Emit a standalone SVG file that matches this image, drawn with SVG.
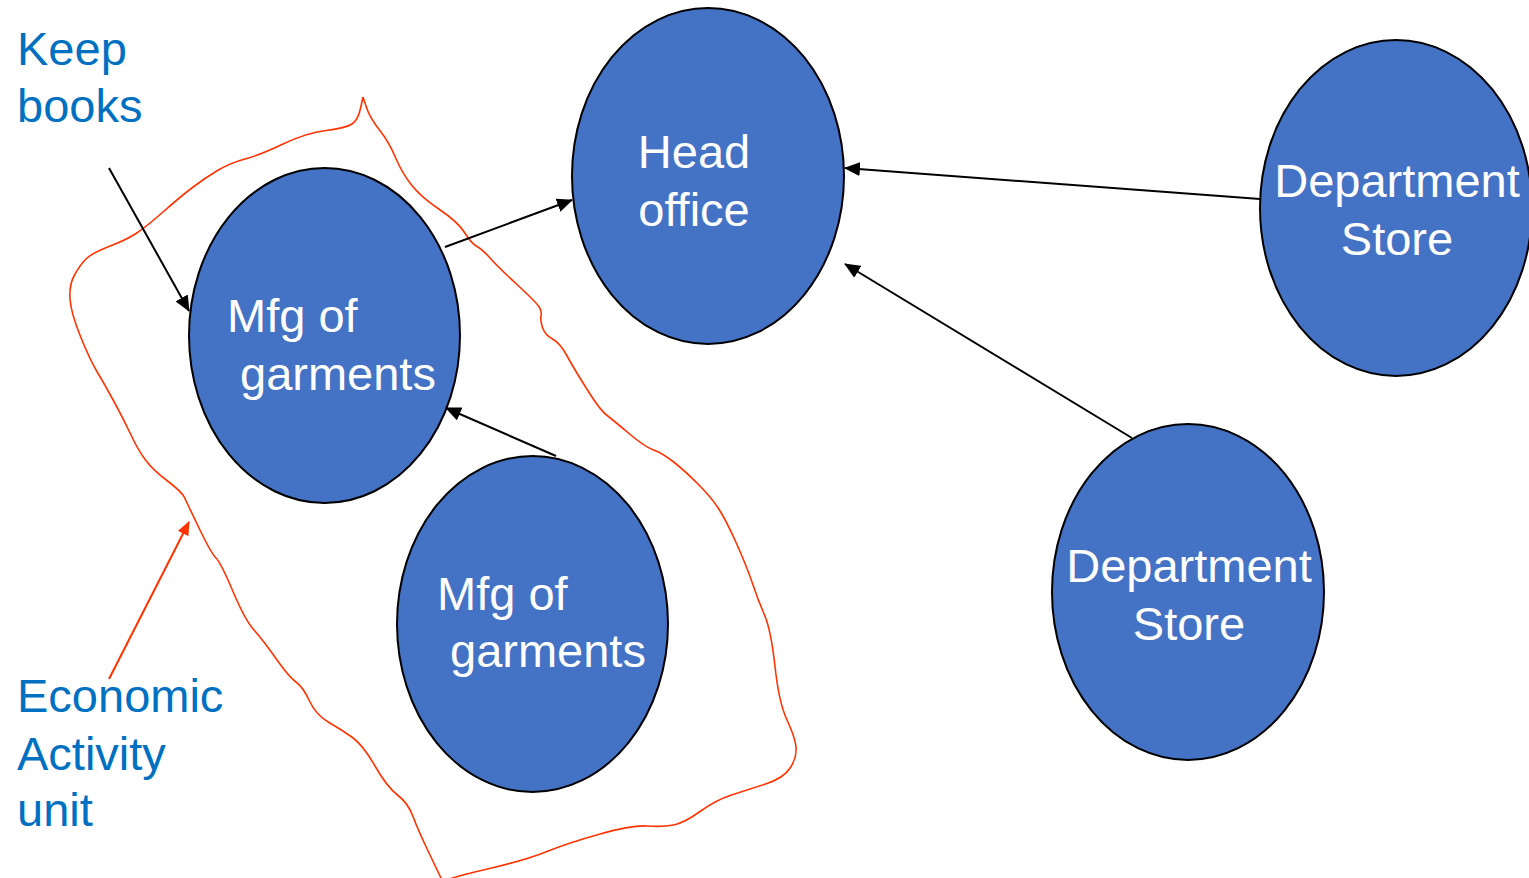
<svg xmlns="http://www.w3.org/2000/svg" width="1529" height="878" viewBox="0 0 1529 878">
<style>
.node{fill:#4472C4;stroke:#000;stroke-width:2}
.nt{fill:#fff;font-family:"Liberation Sans",Arial,sans-serif;font-size:47px}
.lbl{fill:#0070C0;font-family:"Liberation Sans",Arial,sans-serif;font-size:47px}
.conn{stroke:#000;stroke-width:2;fill:none}
</style>
<defs>
<marker id="ah" markerUnits="userSpaceOnUse" markerWidth="16" markerHeight="14" refX="15" refY="7" orient="auto"><path d="M0,0 L16,7 L0,14 Z" fill="#000"/></marker>
<marker id="ahr" markerUnits="userSpaceOnUse" markerWidth="14" markerHeight="12" refX="13" refY="6" orient="auto"><path d="M0,0 L14,6 L0,12 Z" fill="#FF3300"/></marker>
</defs>
<rect width="1529" height="878" fill="#fff"/>
<path id="boundary" d="M363,97 L366.5,107.5 Q370,118 379.5,130 Q389,142 395.5,157.5 Q402,173 411.5,185 Q421,197 439.5,209.5 Q458,222 464.5,232.5 Q471,243 477,246.5 Q483,250 490.5,258.5 Q498,267 517.5,285 Q537,303 539.5,307.5 Q542,312 541,316 Q540,320 542.5,327.5 Q545,335 552.5,339 Q560,343 566.5,355 Q573,367 586.5,388.5 Q600,410 606.5,415 Q613,420 629,433.5 Q645,447 653.5,450 Q662,453 673,461.5 Q684,470 697.5,483.5 Q711,497 718.5,508.5 Q726,520 736.5,543.5 Q747,567 752.5,583.5 Q758,600 764.5,615 Q771,630 775,666.5 Q779,703 787,720 Q795,737 796,747 Q797,757 790.5,767.5 Q784,778 765.5,784 Q747,790 731.5,795 Q716,800 700,811.5 Q684,823 673.5,825 Q663,827 647.5,826 Q632,825 600,834 Q568,843 547,851.5 Q526,860 489.5,868.5 Q453,877 447,880 M441,878 L429.5,854 Q418,830 413,816.5 Q408,803 397.5,795 Q387,787 375,766 Q363,745 352.5,737.5 Q342,730 329,722.5 Q316,715 309.5,701 Q303,687 296,682 Q289,677 276,658.5 Q263,640 254,630 Q245,620 233,591.5 Q221,563 216,558 Q211,553 199,528 Q187,503 184.5,497.5 Q182,492 167.5,481 Q153,470 145.5,460 Q138,450 131,435 Q124,420 114.5,402.5 Q105,385 97.5,372.5 Q90,360 80.5,336.5 Q71,313 70,299 Q69,285 74.5,275 Q80,265 86,259 Q92,253 109,246.5 Q126,240 136,233.5 Q146,227 163,212 Q180,197 192.5,187.5 Q205,178 217.5,170.5 Q230,163 245,159 Q260,155 283,144 Q306,133 326,130.5 Q346,128 352,124 Q358,120 360.5,108.5 L363,97" fill="none" stroke="#FF3300" stroke-width="1.6" stroke-linejoin="round"/>
<g id="head-office"><ellipse class="node" cx="708" cy="176" rx="136" ry="168"/><text class="nt" x="694" y="168" text-anchor="middle">Head</text><text class="nt" x="694" y="226" text-anchor="middle">office</text></g>
<g id="mfg1"><ellipse class="node" cx="324.5" cy="335.5" rx="135.5" ry="167.5"/><text class="nt" x="227" y="332">Mfg of</text><text class="nt" x="240" y="390">garments</text></g>
<g id="mfg2"><ellipse class="node" cx="532.5" cy="624" rx="135.5" ry="168"/><text class="nt" x="437" y="610">Mfg of</text><text class="nt" x="450" y="667">garments</text></g>
<g id="dept1"><ellipse class="node" cx="1396" cy="208" rx="136" ry="168"/><text class="nt" x="1397" y="197" text-anchor="middle">Department</text><text class="nt" x="1397" y="255" text-anchor="middle">Store</text></g>
<g id="dept2"><ellipse class="node" cx="1188" cy="592" rx="136" ry="168"/><text class="nt" x="1189" y="582" text-anchor="middle">Department</text><text class="nt" x="1189" y="640" text-anchor="middle">Store</text></g>
<g id="keep-books"><text class="lbl" x="17" y="65">Keep</text><text class="lbl" x="17" y="122">books</text></g>
<g id="eau"><text class="lbl" x="17" y="712">Economic</text><text class="lbl" x="17" y="770">Activity</text><text class="lbl" x="17" y="826">unit</text></g>
<g id="connectors">
<line class="conn" x1="109" y1="168" x2="189" y2="311" marker-end="url(#ah)"/>
<line class="conn" x1="445" y1="247" x2="572" y2="200" marker-end="url(#ah)"/>
<line class="conn" x1="556" y1="456" x2="446" y2="408" marker-end="url(#ah)"/>
<line class="conn" x1="1260" y1="199" x2="845" y2="168" marker-end="url(#ah)"/>
<line class="conn" x1="1132" y1="438" x2="845" y2="264" marker-end="url(#ah)"/>
<line x1="109" y1="679" x2="189" y2="522" stroke="#FF3300" stroke-width="2" marker-end="url(#ahr)"/>
</g>
</svg>
